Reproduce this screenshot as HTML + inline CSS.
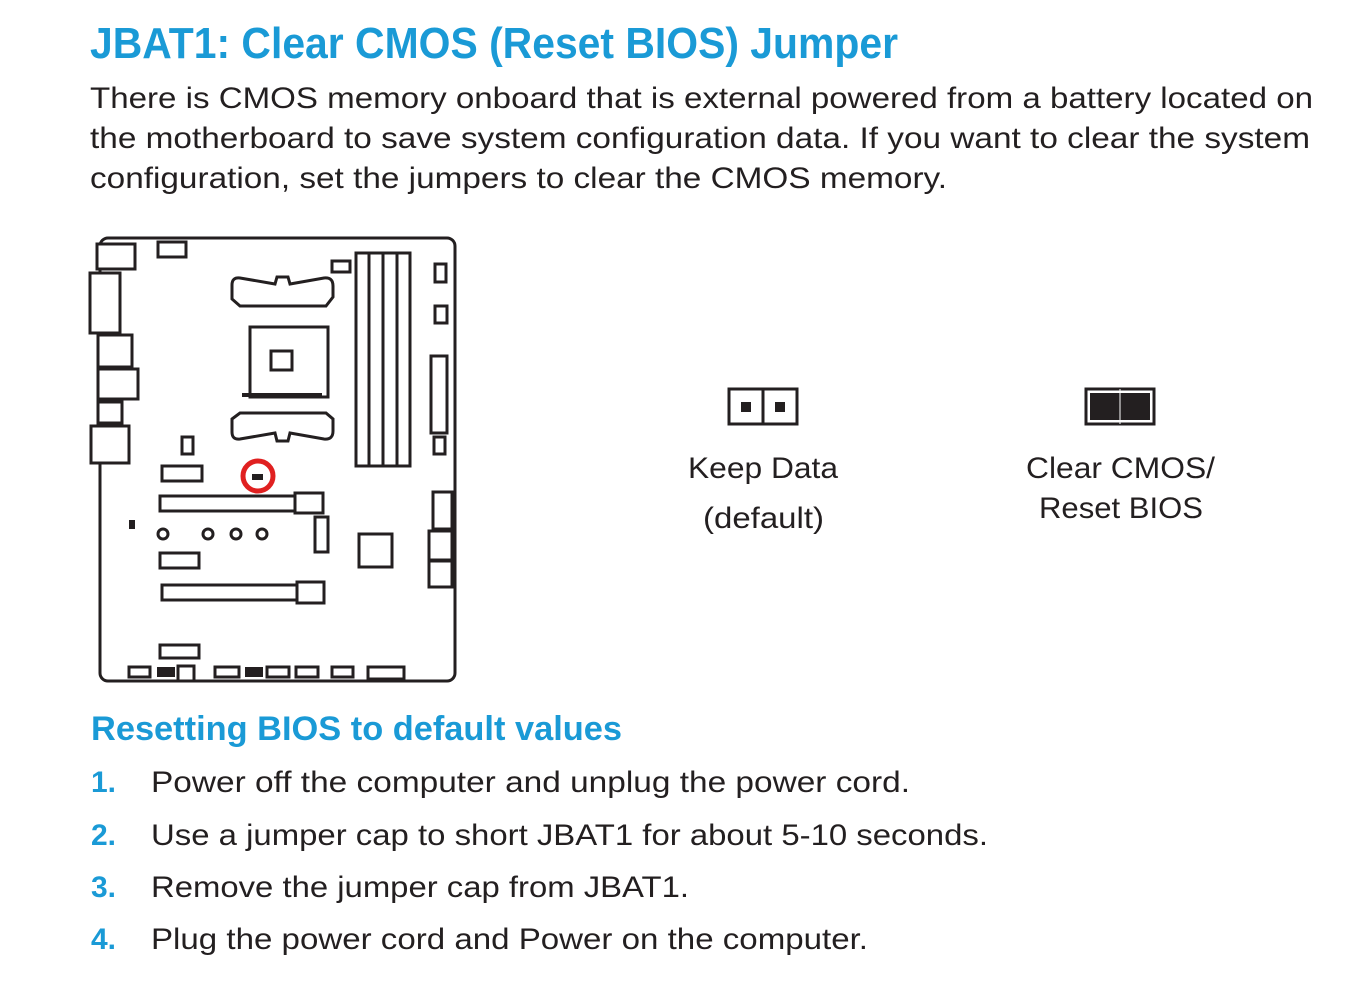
<!DOCTYPE html>
<html><head><meta charset="utf-8"><style>
html,body{margin:0;padding:0;background:#fff;}
svg{display:block;}
text{font-family:"Liberation Sans",sans-serif;}
</style></head><body>
<svg width="1364" height="1004" viewBox="0 0 1364 1004" xmlns="http://www.w3.org/2000/svg">
<g fill="#1a9ad6" font-weight="bold">
<text x="90" y="58" font-size="44" textLength="808" lengthAdjust="spacingAndGlyphs">JBAT1: Clear CMOS (Reset BIOS) Jumper</text>
<text x="91" y="740" font-size="34" textLength="531" lengthAdjust="spacingAndGlyphs">Resetting BIOS to default values</text>
<text x="91" y="792" font-size="30">1.</text>
<text x="91" y="845" font-size="30">2.</text>
<text x="91" y="897" font-size="30">3.</text>
<text x="91" y="949" font-size="30">4.</text>
</g>
<g fill="#231f20" font-size="30">
<text x="90" y="108" textLength="1223" lengthAdjust="spacingAndGlyphs">There is CMOS memory onboard that is external powered from a battery located on</text>
<text x="90" y="148" textLength="1220" lengthAdjust="spacingAndGlyphs">the motherboard to save system configuration data. If you want to clear the system</text>
<text x="90" y="188" textLength="857" lengthAdjust="spacingAndGlyphs">configuration, set the jumpers to clear the CMOS memory.</text>
<text x="151" y="792" textLength="759" lengthAdjust="spacingAndGlyphs">Power off the computer and unplug the power cord.</text>
<text x="151" y="845" textLength="837" lengthAdjust="spacingAndGlyphs">Use a jumper cap to short JBAT1 for about 5-10 seconds.</text>
<text x="151" y="897" textLength="538" lengthAdjust="spacingAndGlyphs">Remove the jumper cap from JBAT1.</text>
<text x="151" y="949" textLength="717" lengthAdjust="spacingAndGlyphs">Plug the power cord and Power on the computer.</text>
<text x="688" y="478" textLength="150" lengthAdjust="spacingAndGlyphs">Keep Data</text>
<text x="703" y="528" textLength="121" lengthAdjust="spacingAndGlyphs">(default)</text>
<text x="1026" y="478" textLength="189" lengthAdjust="spacingAndGlyphs">Clear CMOS/</text>
<text x="1039" y="518" textLength="164" lengthAdjust="spacingAndGlyphs">Reset BIOS</text>
</g>
<!-- jumpers -->
<g stroke="#231f20" stroke-width="3" fill="none">
<rect x="729" y="389" width="68" height="35"/>
<line x1="763" y1="389" x2="763" y2="424"/>
<rect x="1086" y="389" width="68" height="35"/>
</g>
<rect x="741" y="402" width="10" height="10" fill="#231f20"/>
<rect x="775" y="402" width="10" height="10" fill="#231f20"/>
<rect x="1090" y="393" width="60" height="27" fill="#231f20"/>
<line x1="1120" y1="389" x2="1120" y2="424" stroke="#fff" stroke-width="1"/>
<!-- board -->
<g stroke="#231f20" stroke-width="3" fill="#fff">
<rect x="100" y="238" width="355" height="443" rx="8"/>
<rect x="97" y="244" width="38" height="25"/>
<rect x="158" y="242" width="28" height="15"/>
<rect x="90" y="273" width="30" height="60"/>
<rect x="98" y="335" width="34" height="32"/>
<rect x="98" y="369" width="40" height="30"/>
<rect x="98" y="402" width="24" height="21"/>
<rect x="91" y="426" width="38" height="37"/>
<rect x="332" y="261" width="18" height="11"/>
<rect x="356" y="253" width="54" height="213"/>
<line x1="369" y1="253" x2="369" y2="466"/>
<line x1="383" y1="253" x2="383" y2="466"/>
<line x1="397" y1="253" x2="397" y2="466"/>
<rect x="435" y="264" width="11" height="18"/>
<rect x="435" y="306" width="12" height="17"/>
<rect x="431" y="356" width="16" height="77"/>
<rect x="434" y="437" width="11" height="17"/>
<rect x="250" y="327" width="78" height="70"/>
<rect x="271" y="351" width="21" height="19"/>
<path d="M232 285 Q232 277 240 278 L275 284 L277 277 L288 277 L290 284 L324 278 Q333 277 333 286 L333 297 L326 306 L240 306 L232 299 Z"/>
<path d="M232 419 L240 413 L326 413 L333 419 L333 431 Q333 440 324 439 L290 433 L288 441 L277 441 L275 433 L240 439 Q232 440 232 432 Z"/>
<rect x="182" y="437" width="11" height="17"/>
<rect x="162" y="466" width="40" height="15"/>
<rect x="160" y="496" width="135" height="15"/>
<rect x="295" y="493" width="28" height="20"/>
<rect x="315" y="517" width="13" height="35"/>
<rect x="160" y="553" width="39" height="15"/>
<rect x="359" y="534" width="33" height="33"/>
<rect x="433" y="492" width="19" height="37"/>
<rect x="429" y="531" width="23" height="29"/>
<rect x="429" y="561" width="23" height="26"/>
<rect x="162" y="585" width="135" height="15"/>
<rect x="297" y="582" width="27" height="21"/>
<rect x="160" y="645" width="39" height="13"/>
<rect x="129" y="667" width="21" height="10"/>
<rect x="178" y="666" width="16" height="15"/>
<rect x="215" y="667" width="24" height="10"/>
<rect x="267" y="667" width="22" height="10"/>
<rect x="296" y="667" width="22" height="10"/>
<rect x="332" y="667" width="21" height="10"/>
<rect x="368" y="667" width="36" height="12"/>
<circle cx="163" cy="534" r="5"/>
<circle cx="208" cy="534" r="5"/>
<circle cx="236" cy="534" r="5"/>
<circle cx="262" cy="534" r="5"/>
</g>
<line x1="242" y1="395" x2="322" y2="395" stroke="#231f20" stroke-width="4"/>
<rect x="157" y="667" width="18" height="10" fill="#231f20"/>
<rect x="245" y="667" width="18" height="10" fill="#231f20"/>
<rect x="129" y="520" width="6" height="9" fill="#231f20"/>
<circle cx="258" cy="476" r="15" fill="none" stroke="#e02020" stroke-width="5"/>
<rect x="252" y="474" width="11" height="6" fill="#231f20"/>
</svg>
</body></html>
